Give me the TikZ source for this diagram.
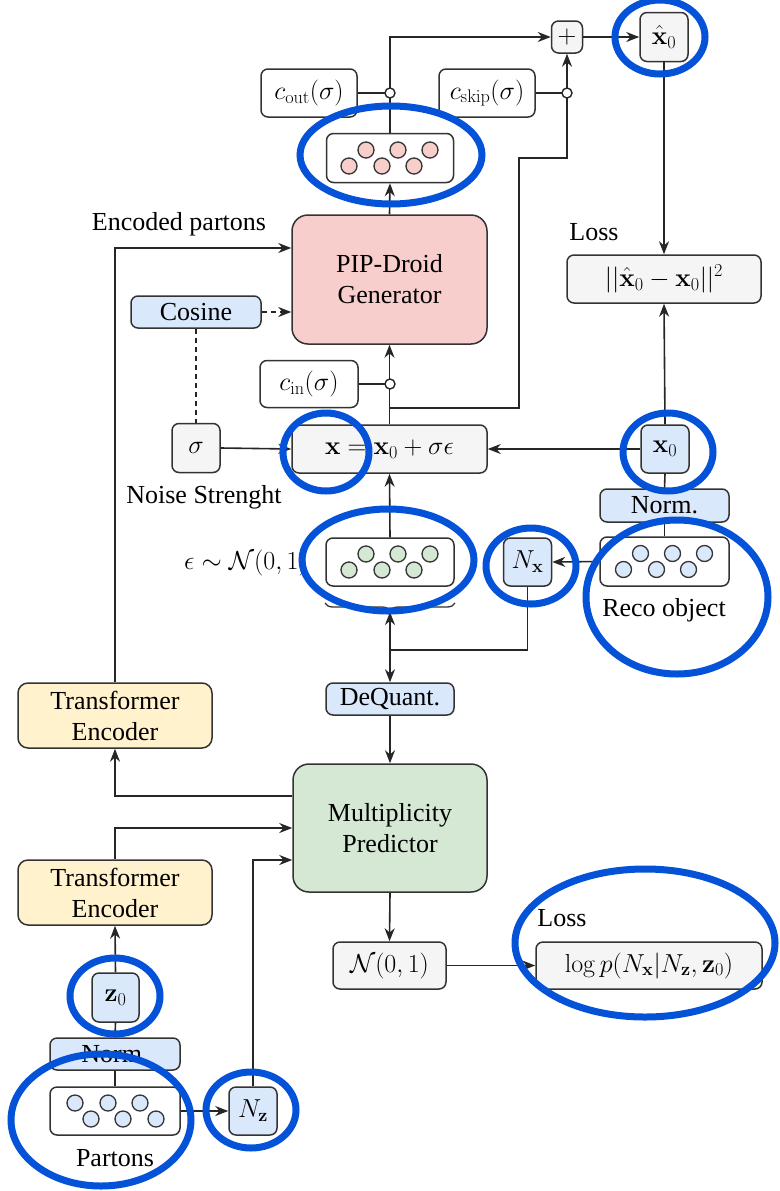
\RequirePackage{fix-cm}
\documentclass[tikz,border=0pt]{standalone}
\usepackage[no-math]{fontspec}
\setmainfont{Liberation Serif}
\usetikzlibrary{arrows.meta,decorations.pathreplacing,calc}
\definecolor{bordc}{HTML}{333333}
\definecolor{grayf}{HTML}{F5F5F5}
\definecolor{bluef}{HTML}{DAE8FC}
\definecolor{pinkf}{HTML}{F8CECC}
\definecolor{greenf}{HTML}{D5E8D4}
\definecolor{yellowf}{HTML}{FFF2CC}
\definecolor{annotc}{HTML}{0452D8}
\tikzset{
  box/.style={draw=bordc, line width=1.5pt, rounded corners=7pt, inner sep=0pt, align=center},
  bigbox/.style={box, rounded corners=16pt},
  arr/.style={line width=1.6pt, draw=black!85, -{Stealth[length=13pt,width=10pt]}},
  ln/.style={line width=1.6pt, draw=black!85},
  dsh/.style={dash pattern=on 5pt off 4pt},
  junc/.style={circle, draw=black!85, line width=1.4pt, fill=white, minimum size=10pt, inner sep=0pt},
  dot/.style={draw=bordc, line width=1.3pt},
  annot/.style={draw=annotc, line width=7pt},
  lbl/.style={inner sep=0pt}
}
\newcommand{\dotsA}[3]{%
  \foreach \dx in {-41,-8,24} {\draw[dot, fill=#3] ($(#1,#2)+(\dx,8)$) circle[radius=8pt];}
  \foreach \dx in {-24,8,40} {\draw[dot, fill=#3] ($(#1,#2)+(\dx,-8)$) circle[radius=8pt];}
}
\newcommand{\dotsB}[3]{%
  \foreach \dx in {-40,-7,25} {\draw[dot, fill=#3] ($(#1,#2)+(\dx,-8)$) circle[radius=8pt];}
  \foreach \dx in {-24,8,41} {\draw[dot, fill=#3] ($(#1,#2)+(\dx,8)$) circle[radius=8pt];}
}
\begin{document}
\begin{tikzpicture}[x=1pt,y=-1pt, font=\fontsize{26}{31}\selectfont]
\fill[white] (0,0) rectangle (779,1191);
\useasboundingbox (0,0) rectangle (779,1191);

% ---------- nodes ----------
\node[box, fill=grayf, minimum width=31pt, minimum height=32pt] (plus) at (567,37) {$+$};
\node[box, fill=grayf, minimum width=48pt, minimum height=49pt] (xhat) at (664,37) {$\hat{\mathbf{x}}_0$};
\node[box, fill=white, minimum width=96pt, minimum height=48pt] (cout) at (309,93) {$c_{\mathrm{out}}(\sigma)$};
\node[box, fill=white, minimum width=96pt, minimum height=48pt] (cskip) at (487,93) {$c_{\mathrm{skip}}(\sigma)$};
\node[box, fill=white, minimum width=127pt, minimum height=49pt] (pink) at (390,158) {};
\node[bigbox, fill=pinkf, minimum width=195pt, minimum height=129pt] (pip) at (389.5,279.5) {PIP-Droid\\Generator};
\node[box, fill=bluef, minimum width=130pt, minimum height=32pt] (cosine) at (196,312) {Cosine};
\node[box, fill=white, minimum width=98pt, minimum height=47pt] (cin) at (309,384) {$c_{\mathrm{in}}(\sigma)$};
\node[box, fill=grayf, minimum width=48pt, minimum height=49pt] (sigma) at (196,448) {$\sigma$};
\node[box, fill=grayf, minimum width=195pt, minimum height=48pt] (xbox) at (389.5,449) {$\mathbf{x}=\mathbf{x}_0+\sigma\epsilon$};
\node[box, fill=grayf, minimum width=194pt, minimum height=48pt] (loss1) at (664,279) {$||\hat{\mathbf{x}}_0-\mathbf{x}_0||^2$};
\node[box, fill=bluef, minimum width=48pt, minimum height=48pt] (x0) at (665,449) {$\mathbf{x}_0$};
\node[box, fill=bluef, minimum width=129pt, minimum height=33pt] (normR) at (664.5,505.5) {Norm.};
\node[box, fill=white, minimum width=129pt, minimum height=49pt] (reco) at (664.5,561.5) {};
\node[box, fill=bluef, minimum width=48pt, minimum height=48pt] (nx) at (527.5,562) {$N_{\mathbf{x}}$};
\node[box, fill=white, minimum width=128pt, minimum height=48pt] (green) at (390,562) {};
\node[box, fill=bluef, minimum width=128pt, minimum height=32pt] (dequant) at (390,699) {DeQuant.};
\node[bigbox, fill=greenf, minimum width=194pt, minimum height=128pt] (mult) at (390,828) {Multiplicity\\Predictor};
\node[box, rounded corners=10pt, fill=yellowf, minimum width=194pt, minimum height=65pt] (te1) at (115,715.5) {Transformer\\Encoder};
\node[box, rounded corners=10pt, fill=yellowf, minimum width=194pt, minimum height=65pt] (te2) at (115,892.5) {Transformer\\Encoder};
\node[box, fill=grayf, minimum width=113pt, minimum height=47pt] (n01) at (389.5,965.5) {$\mathcal{N}(0,1)$};
\node[box, fill=grayf, minimum width=226pt, minimum height=47pt] (loss2) at (649,965.5) {$\log p(N_{\mathbf{x}}|N_{\mathbf{z}},\mathbf{z}_0)$};
\node[box, fill=bluef, minimum width=47pt, minimum height=49pt] (z0) at (115.5,997.5) {$\mathbf{z}_0$};
\node[box, fill=bluef, minimum width=130pt, minimum height=32pt] (normL) at (115,1054) {Norm.};
\node[box, fill=white, minimum width=130pt, minimum height=48pt] (partons) at (115,1111) {};
\node[box, fill=bluef, minimum width=48pt, minimum height=48pt] (nz) at (253,1111) {$N_{\mathbf{z}}$};

% labels
\node[lbl] (lenc) at (179,224) {Encoded partons};
\node[lbl] (lnoise) at (204,497) {Noise Strenght};
\node[lbl] (lloss1) at (594,232) {Loss};
\node[lbl] (lreco) at (664,610) {Reco object};
\node[lbl, anchor=east] (leps) at (308,563) {$\epsilon\sim\mathcal{N}(0,1)$};
\node[lbl] (lloss2) at (562,918) {Loss};
\node[lbl] (lpart) at (115,1158) {Partons};

% dots
\dotsA{390}{158}{pinkf}
\dotsA{390}{562}{greenf}
\dotsA{664.5}{561.5}{bluef}
\dotsB{115}{1111}{bluef}

% brace
\draw[line width=1.3pt, draw=black!80, decorate, decoration={brace, amplitude=8pt, mirror}] (325,603) -- (455,603);
\coordinate (bt) at (390,612);

% junction coordinates
\coordinate (j1) at (390,408);
\coordinate (sk) at (519,158);
\coordinate (j2) at (390,650);

% ---------- connectors ----------
\draw[arr] (pink.north) |- (plus.west);
\draw[arr] (plus.east) -- (xhat.west);
\draw[ln] (cout.east) -- (390,93);
\draw[ln] (cskip.east) -- (567,93);
\draw[arr] (j1) -| (sk) -| (plus.south);
\draw[arr] (pip.north) -- (pink.south);
\draw[arr] (xbox.north) -- (pip.south);
\draw[ln] (cin.east) -- (390,384);
\draw[arr, dsh] (cosine.east) -- (cosine.east -| pip.west);
\draw[ln, dsh] (cosine.south) -- (sigma.north);
\draw[arr] (sigma.east) -- (xbox.west);
\draw[arr] (x0.west) -- (xbox.east);
\draw[arr] (x0.north) -- (loss1.south);
\draw[arr] (xhat.south) -- (loss1.north);
\draw[ln] (x0.south) -- (normR.north);
\draw[ln] (normR.south) -- (reco.north);
\draw[arr] (reco.west) -- (nx.east);
\draw[ln] (nx.south) |- (j2);
\draw[arr] (j2) -- (bt);
\draw[arr] (j2) -- (dequant.north);
\draw[arr] (green.north) -- (xbox.south);
\draw[arr] (dequant.south) -- (mult.north);
\draw[arr] (te1.north) |- ([yshift=31.5pt]pip.west);
\draw[arr] ([yshift=32pt]mult.west) -| (te1.south);
\draw[arr] (te2.north) |- (mult.west);
\draw[arr] (nz.north) |- ([yshift=-32pt]mult.west);
\draw[arr] (z0.north) -- (te2.south);
\draw[ln] (z0.south) -- (normL.north);
\draw[ln] (normL.south) -- (partons.north);
\draw[arr] (partons.east) -- (nz.west);
\draw[arr] (mult.south) -- (n01.north);
\draw[arr] (n01.east) -- (loss2.west);

% junction circles
\node[junc] (o1) at (390,93) {};
\node[junc] (o2) at (567,93) {};
\node[junc] (o3) at (390,384) {};

% ---------- annotation ellipses ----------
\draw[annot] (391,155) ellipse [x radius=91pt, y radius=49pt];
\draw[annot] (660,37) ellipse [x radius=45pt, y radius=37pt];
\draw[annot] (326,452) ellipse [x radius=43pt, y radius=39pt];
\draw[annot] (668,452) ellipse [x radius=45pt, y radius=39pt];
\draw[annot] (388,560) ellipse [x radius=86pt, y radius=51pt];
\draw[annot] (531,566) ellipse [x radius=45pt, y radius=38pt];
\draw[annot] (677,597) ellipse [x radius=91pt, y radius=77pt];
\draw[annot] (645,943) ellipse [x radius=130pt, y radius=74pt];
\draw[annot] (115,996) ellipse [x radius=45pt, y radius=38pt];
\draw[annot] (101,1120) ellipse [x radius=90pt, y radius=66pt];
\draw[annot] (251,1110) ellipse [x radius=45pt, y radius=38pt];
\end{tikzpicture}
\end{document}
